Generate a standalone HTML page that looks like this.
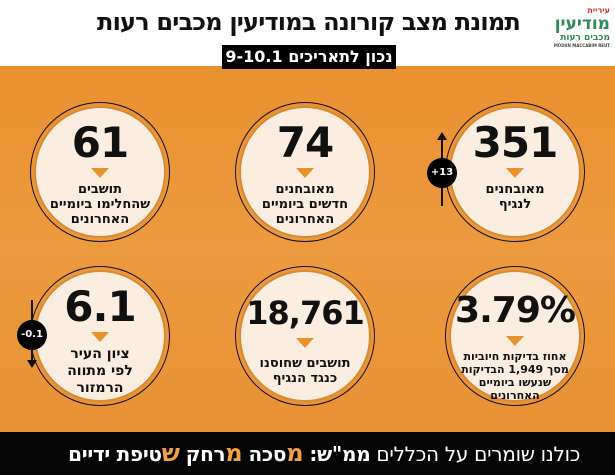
<!DOCTYPE html>
<html><head><meta charset="utf-8"><style>
*{margin:0;padding:0;box-sizing:border-box}
body{width:615px;height:475px;overflow:hidden;position:relative;background:#fff;font-family:"DejaVu Sans","Liberation Sans",sans-serif}
.hdr{position:absolute;left:0;top:0;width:615px;height:66px;background:#fff}
.title{position:absolute;right:95px;top:8px;font-size:24px;font-weight:bold;color:#111;direction:rtl;white-space:nowrap;letter-spacing:-0.8px}
.date{position:absolute;left:222px;top:45px;width:174px;height:24px;background:#000;color:#fff;font-size:16px;font-weight:bold;direction:rtl;text-align:center;line-height:24px;z-index:3}
.bg{position:absolute;left:0;top:66px;width:615px;height:366px;background:linear-gradient(180deg,#e9902f 0%,#ec9a3e 50%,#e79133 100%)}
.ft{position:absolute;left:0;top:432px;width:615px;height:43px;background:#050505;color:#fff;direction:rtl;font-size:20px;line-height:43px;padding-right:35px;white-space:nowrap;letter-spacing:-0.3px}
.ft b{color:#f0a040}
.c{position:absolute;width:140px;height:140px;border-radius:50%;border:1.5px solid #111;}
.c .in{position:absolute;left:3px;top:3px;right:3px;bottom:3px;border-radius:50%;background:#fbeee0;border:2px solid #d98a30;text-align:center;direction:rtl}
.n{font-size:42px;font-weight:bold;color:#111;margin-top:12px;line-height:46px;letter-spacing:-1px}
.tri{width:0;height:0;margin:2px auto 4px;border-left:9px solid transparent;border-right:9px solid transparent;border-top:10px solid #e8922e}
.t{font-size:13px;font-weight:bold;color:#111;line-height:15px}
.badge{position:absolute;width:30px;height:30px;border-radius:50%;background:#000;color:#fff;font-size:10px;font-weight:bold;line-height:30px;z-index:2;display:flex;justify-content:center}
.badge span{display:block}
.ln{position:absolute;width:1.5px;background:#111;z-index:1}
</style></head><body>
<div class="hdr"></div>
<div class="title">תמונת מצב קורונה במודיעין מכבים רעות</div>
<div style="position:absolute;left:540px;top:6px;width:70px;height:55px;direction:rtl;text-align:right;color:#2e8b57;font-weight:bold">
<div style="font-size:8px;color:#c33">עיריית</div>
<div style="font-size:17px;line-height:18px">מודיעין</div>
<div style="font-size:9px">מכבים רעות</div>
<div style="font-size:4px;color:#444">MODIIN MACCABIM REUT</div>
</div>
<div class="date">נכון לתאריכים 9-10.1</div>
<div class="bg"></div>

<div class="c" style="left:445px;top:102px"><div class="in"><div class="n">351</div><div class="tri"></div><div class="t">מאובחנים<br>לנגיף</div></div></div>
<div class="c" style="left:235px;top:102px"><div class="in"><div class="n">74</div><div class="tri"></div><div class="t">מאובחנים<br>חדשים ביומיים<br>האחרונים</div></div></div>
<div class="c" style="left:30px;top:102px"><div class="in"><div class="n">61</div><div class="tri"></div><div class="t">תושבים<br>שהחלימו ביומיים<br>האחרונים</div></div></div>

<div class="c" style="left:445px;top:266px"><div class="in"><div class="n" style="font-size:36px;margin-top:16px">3.79%</div><div class="tri"></div><div class="t" style="font-size:11px;line-height:13px">אחוז בדיקות חיוביות<br>מסך 1,949 הבדיקות<br>שנעשו ביומיים<br>האחרונים</div></div></div>
<div class="c" style="left:235px;top:266px"><div class="in"><div class="n" style="font-size:32px;margin-top:18px">18,761</div><div class="tri"></div><div class="t" style="margin-top:8px">תושבים שחוסנו<br>כנגד הנגיף</div></div></div>
<div class="c" style="left:30px;top:266px"><div class="in"><div class="n">6.1</div><div class="tri"></div><div class="t" style="font-size:14px;line-height:17px">ציון העיר<br>לפי מתווה<br>הרמזור</div></div></div>

<div class="ln" style="left:441px;top:140px;height:66px"></div>
<div style="position:absolute;left:437px;top:132px;border-left:5px solid transparent;border-right:5px solid transparent;border-bottom:8px solid #111"></div>
<div class="badge" style="left:427px;top:158px"><span>+</span><span>13</span></div>
<div class="ln" style="left:31px;top:300px;height:62px"></div>
<div style="position:absolute;left:27px;top:360px;border-left:5px solid transparent;border-right:5px solid transparent;border-top:8px solid #111"></div>
<div class="badge" style="left:17px;top:320px"><span>-</span><span>0.1</span></div>

<div class="ft">כולנו שומרים על הכללים <span style="font-weight:bold">ממ"ש:</span> <b style="font-size:24px">מ</b><span style="font-weight:bold">סכה</span> <b style="font-size:24px">מ</b><span style="font-weight:bold">רחק</span> <b style="font-size:24px">ש</b><span style="font-weight:bold">טיפת ידיים</span></div>
</body></html>
